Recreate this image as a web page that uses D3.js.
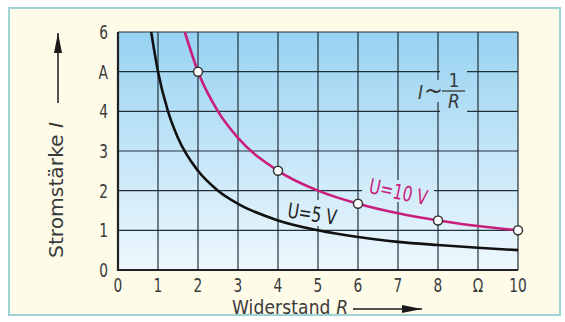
<!DOCTYPE html>
<html>
<head>
<meta charset="utf-8">
<script src="https://cdn.jsdelivr.net/npm/d3@7"></script>
<style>
  html, body { margin: 0; padding: 0; background: #fff; }
  svg { display: block; }
  text { font-family: 'DejaVu Sans Condensed', 'Liberation Sans Narrow', sans-serif; fill: #3a3a3a; }
</style>
</head>
<body>
<div id="chart"></div>
<script>
// tick labels (unit letters replace one number on each axis)
const xTicks = [0, 1, 2, 3, 4, 5, 6, 7, 8, 9, 10]
const xTickLabels = ['0', '1', '2', '3', '4', '5', '6', '7', '8', 'Ω', '10']
const yTicks = [0, 1, 2, 3, 4, 5, 6]
const yTickLabels = ['0', '1', '2', '3', '4', 'A', '6']

// curve U = 5 V
const r5 = [0.83, 1, 1.25, 1.5, 2, 2.5, 3, 4, 5, 6, 7, 8, 9, 10]
const i5 = [6, 5, 4, 3.33, 2.5, 2, 1.67, 1.25, 1, 0.83, 0.71, 0.63, 0.56, 0.5]

// curve U = 10 V
const r10 = [1.67, 2, 2.5, 3, 4, 5, 6, 7, 8, 9, 10]
const i10 = [6, 5, 4, 3.33, 2.5, 2, 1.67, 1.43, 1.25, 1.11, 1]

// measured points on the 10 V curve
const pointR = [2, 4, 6, 8, 10]
const pointI = [5, 2.5, 1.67, 1.25, 1]

const width = 565
const height = 322
const plot = { left: 118, right: 518, top: 32, bottom: 270 }

const x = d3.scaleLinear().domain([0, 10]).range([plot.left, plot.right])
const y = d3.scaleLinear().domain([0, 6]).range([plot.bottom, plot.top])

const svg = d3.select('#chart')
  .append('svg')
  .attr('width', width)
  .attr('height', height)

const defs = svg.append('defs')
const grad = defs.append('linearGradient')
  .attr('id', 'sky')
  .attr('gradientUnits', 'userSpaceOnUse')
  .attr('x1', 0).attr('x2', 0)
  .attr('y1', plot.top).attr('y2', plot.bottom)
grad.append('stop').attr('offset', '0%').attr('stop-color', '#97d2f1')
grad.append('stop').attr('offset', '55%').attr('stop-color', '#c8e7f8')
grad.append('stop').attr('offset', '100%').attr('stop-color', '#eef8fd')

defs.append('marker')
  .attr('id', 'arrow')
  .attr('viewBox', '0 0 20 8')
  .attr('refX', 20).attr('refY', 4)
  .attr('markerWidth', 20).attr('markerHeight', 8)
  .attr('markerUnits', 'userSpaceOnUse')
  .attr('orient', 'auto')
  .append('path')
  .attr('d', 'M0,0 L20,4 L0,8 Z')
  .attr('fill', '#1a1a1a')

// card background
svg.append('rect')
  .attr('x', 9).attr('y', 8)
  .attr('width', 551).attr('height', 307)
  .attr('fill', '#fffbe9')
  .attr('stroke', '#9fd4d6')
  .attr('stroke-width', 2)

// plot background
svg.append('rect')
  .attr('x', plot.left).attr('y', plot.top)
  .attr('width', plot.right - plot.left)
  .attr('height', plot.bottom - plot.top)
  .attr('fill', 'url(#sky)')

// grid
const grid = svg.append('g')
  .attr('stroke', '#23303c')
  .attr('stroke-width', 1.2)
grid.selectAll('line.v')
  .data(xTicks.slice(1))
  .enter()
  .append('line')
  .attr('x1', d => x(d)).attr('x2', d => x(d))
  .attr('y1', plot.top).attr('y2', plot.bottom)
grid.selectAll('line.h')
  .data(yTicks.slice(1))
  .enter()
  .append('line')
  .attr('x1', plot.left).attr('x2', plot.right)
  .attr('y1', d => y(d)).attr('y2', d => y(d))

// gaps in the grid behind the labels
const gaps = [
  [413, 80, 26, 22],
  [440, 66, 27, 46],
  [362, 180, 72, 22],
  [282, 200, 60, 26]
]
svg.append('g')
  .selectAll('rect')
  .data(gaps)
  .enter()
  .append('rect')
  .attr('x', d => d[0]).attr('y', d => d[1])
  .attr('width', d => d[2]).attr('height', d => d[3])
  .attr('fill', 'url(#sky)')

// axes lines
svg.append('path')
  .attr('d', `M${plot.left},${plot.top} V${plot.bottom} H${plot.right}`)
  .attr('fill', 'none')
  .attr('stroke', '#222')
  .attr('stroke-width', 2.2)

// tick labels
svg.append('g')
  .selectAll('text')
  .data(xTicks)
  .enter()
  .append('text')
  .attr('transform', d => `translate(${x(d)},292) scale(0.85,1.1)`)
  .attr('text-anchor', 'middle')
  .attr('font-size', 18)
  .text((d, i) => xTickLabels[i])

svg.append('g')
  .selectAll('text')
  .data(yTicks)
  .enter()
  .append('text')
  .attr('transform', d => `translate(108,${y(d) + 7}) scale(0.85,1.1)`)
  .attr('text-anchor', 'end')
  .attr('font-size', 18)
  .text((d, i) => yTickLabels[i])

// curves
const line = d3.line()
  .x(d => x(d[0]))
  .y(d => y(d[1]))
  .curve(d3.curveMonotoneX)

svg.append('path')
  .datum(r5.map((r, i) => [r, i5[i]]))
  .attr('d', line)
  .attr('fill', 'none')
  .attr('stroke', '#111')
  .attr('stroke-width', 2.6)

svg.append('path')
  .datum(r10.map((r, i) => [r, i10[i]]))
  .attr('d', line)
  .attr('fill', 'none')
  .attr('stroke', '#c81e7c')
  .attr('stroke-width', 2.6)

svg.append('g')
  .selectAll('circle')
  .data(pointR)
  .enter()
  .append('circle')
  .attr('cx', d => x(d))
  .attr('cy', (d, i) => y(pointI[i]))
  .attr('r', 4.5)
  .attr('fill', '#fff')
  .attr('stroke', '#333')
  .attr('stroke-width', 1.5)

// curve labels
svg.append('text')
  .attr('transform', 'translate(311,221) rotate(9) scale(0.9,1.1)')
  .attr('text-anchor', 'middle')
  .attr('font-size', 19)
  .style('fill', '#222')
  .text('U=5 V')

svg.append('text')
  .attr('transform', 'translate(397,199) rotate(12) scale(0.9,1.1)')
  .attr('text-anchor', 'middle')
  .attr('font-size', 19)
  .style('fill', '#c81e7c')
  .text('U=10 V')

// I ~ 1/R
svg.append('text')
  .attr('x', 418).attr('y', 99)
  .attr('font-size', 19)
  .style('font-style', 'italic')
  .text('I')
svg.append('text')
  .attr('x', 424).attr('y', 99)
  .attr('font-size', 25)
  .text('~')
svg.append('line')
  .attr('x1', 442).attr('x2', 465)
  .attr('y1', 91).attr('y2', 91)
  .attr('stroke', '#3a3a3a')
  .attr('stroke-width', 1.3)
svg.append('text')
  .attr('x', 454).attr('y', 87)
  .attr('text-anchor', 'middle')
  .attr('font-size', 19)
  .text('1')
svg.append('text')
  .attr('x', 454).attr('y', 108)
  .attr('text-anchor', 'middle')
  .attr('font-size', 19)
  .style('font-style', 'italic')
  .text('R')

// axis titles with arrows
const xTitle = svg.append('text')
  .attr('x', 232).attr('y', 314)
  .attr('font-size', 19)
  .attr('textLength', 116)
xTitle.append('tspan').text('Widerstand ')
xTitle.append('tspan').style('font-style', 'italic').text('R')

svg.append('line')
  .attr('x1', 353).attr('x2', 422)
  .attr('y1', 309).attr('y2', 309)
  .attr('stroke', '#1a1a1a')
  .attr('stroke-width', 1.5)
  .attr('marker-end', 'url(#arrow)')

const yTitle = svg.append('text')
  .attr('transform', 'translate(63,258) rotate(-90)')
  .attr('font-size', 19)
  .attr('textLength', 136)
  .attr('lengthAdjust', 'spacingAndGlyphs')
yTitle.append('tspan').text('Stromstärke ')
yTitle.append('tspan').style('font-style', 'italic').text('I')

svg.append('line')
  .attr('x1', 58).attr('x2', 58)
  .attr('y1', 103).attr('y2', 33)
  .attr('stroke', '#1a1a1a')
  .attr('stroke-width', 1.5)
  .attr('marker-end', 'url(#arrow)')
</script>
</body>
</html>
